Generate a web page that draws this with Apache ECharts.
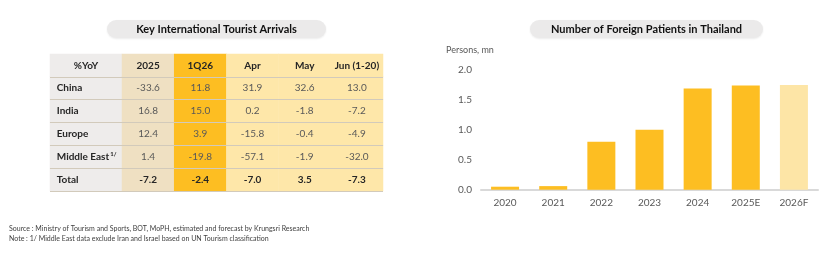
<!DOCTYPE html>
<html>
<head>
<meta charset="utf-8">
<script src="https://cdn.jsdelivr.net/npm/echarts@6/dist/echarts.min.js"></script>
<style>
  html, body { margin: 0; padding: 0; background: #fff; }
  #chart { width: 840px; height: 258px; }
</style>
</head>
<body>
<div id="chart"></div>
<script>
// Key International Tourist Arrivals (%YoY) + Number of Foreign Patients in Thailand

// ---------------------------------------------------------------------------
// Data
// ---------------------------------------------------------------------------
const HEADER_LABEL = "%YoY";
const PERIODS = ["2025", "1Q26", "Apr", "May", "Jun (1-20)"];
const REGIONS = ["China", "India", "Europe", "Middle East", "Total"];
const YOY_2025 = [-33.6, 16.8, 12.4, 1.4, -7.2];
const YOY_1Q26 = [11.8, 15.0, 3.9, -19.8, -2.4];
const YOY_APR = [31.9, 0.2, -15.8, -57.1, -7.0];
const YOY_MAY = [32.6, -1.8, -0.4, -1.9, 3.5];
const YOY_JUN = [13.0, -7.2, -4.9, -32.0, -7.3];

const YEARS = ["2020", "2021", "2022", "2023", "2024", "2025E", "2026F"];
const PATIENTS_MN = [0.05, 0.06, 0.80, 1.00, 1.69, 1.74, 1.75];
const Y_TICKS = [0, 0.5, 1.0, 1.5, 2.0];

// ---------------------------------------------------------------------------
// Styles
// ---------------------------------------------------------------------------
const FONT = "Lato";
const INK = "#262626";
const MUTED = "#595959";
const COL_COLORS = ["#EFE0C2", "#FDBE22", "#FEE7A9", "#FEE7A9", "#FEE7A9"];
const LABEL_COL = "#EEECEB";
const RULE = "#D2CABB";
const BAR = "#FDBE22";
const BAR_FORECAST = "#FDE5A6";

const ROWS = ["header", ...REGIONS];
const TABLE = [YOY_2025, YOY_1Q26, YOY_APR, YOY_MAY, YOY_JUN];
const isBoldRow = (r) => r === 0 || r === ROWS.length - 1;

// label column cells
const labelCells = ROWS.map((_, r) => ({
  value: [0, r, 0],
  itemStyle: { color: LABEL_COL },
  label: r === 0 ? { position: "inside" } : { position: "insideLeft", distance: 7 },
}));

// period cells
const valueCells = [];
PERIODS.forEach((_, c) => {
  ROWS.forEach((_, r) => {
    valueCells.push({
      value: [c, r, r === 0 ? 0 : TABLE[c][r - 1]],
      itemStyle: { color: COL_COLORS[c] },
      label: isBoldRow(r) ? { fontWeight: "bold", color: INK } : {},
    });
  });
});

const tableTop = 54, tableHeight = 137;

function catY(gridIndex) {
  return {
    type: "category", gridIndex, data: ROWS, inverse: true, z: 10,
    axisLine: { show: false }, axisTick: { show: false }, axisLabel: { show: false },
    splitLine: { show: true, showMinLine: false, lineStyle: { color: RULE, width: 1 } },
  };
}

const chart = echarts.init(document.getElementById("chart"), null, { renderer: "canvas" });

chart.setOption({
  animation: false,
  textStyle: { fontFamily: FONT },
  grid: [
    { left: 50, top: tableTop, width: 72, height: tableHeight },
    { left: 122, top: tableTop, width: 261, height: tableHeight },
    { left: 481, right: 22, top: 70, bottom: 68.3 },
  ],
  xAxis: [
    { type: "category", gridIndex: 0, data: [HEADER_LABEL], show: false },
    { type: "category", gridIndex: 1, data: PERIODS, show: false },
    {
      type: "category", gridIndex: 2, data: YEARS,
      axisLine: { lineStyle: { color: "#D9D9D9", width: 2 } },
      axisTick: { show: false },
      axisLabel: { color: MUTED, fontSize: 10, margin: 8, fontFamily: FONT },
    },
  ],
  yAxis: [
    catY(0),
    catY(1),
    {
      type: "value", gridIndex: 2, min: 0, max: 2, interval: 0.5,
      axisLine: { show: false }, axisTick: { show: false }, splitLine: { show: false },
      axisLabel: { color: MUTED, fontSize: 10, margin: 9, fontFamily: FONT,
        formatter: (v) => v.toFixed(1) },
    },
  ],
  series: [
    {
      type: "heatmap", xAxisIndex: 0, yAxisIndex: 0, data: labelCells,
      itemStyle: { borderWidth: 0 },
      label: {
        show: true, fontFamily: FONT, fontSize: 10, fontWeight: "bold", color: INK,
        formatter: (p) => {
          const r = p.value[1];
          if (r === 0) return HEADER_LABEL;
          return ROWS[r] === "Middle East" ? "Middle East{sup|1/}" : ROWS[r];
        },
        rich: { sup: { fontSize: 6, fontWeight: "bold", color: INK, verticalAlign: "top", padding: [0, 0, 5, 1] } },
      },
      emphasis: { disabled: true },
    },
    {
      type: "heatmap", xAxisIndex: 1, yAxisIndex: 1, data: valueCells,
      itemStyle: { borderWidth: 0 },
      label: {
        show: true, fontFamily: FONT, fontSize: 10, color: MUTED,
        formatter: (p) => (p.value[1] === 0 ? PERIODS[p.value[0]] : p.value[2].toFixed(1)),
      },
      emphasis: { disabled: true },
    },
    {
      type: "bar", xAxisIndex: 2, yAxisIndex: 2, barWidth: 28,
      data: PATIENTS_MN.map((v, i) => ({
        value: v,
        itemStyle: { color: YEARS[i].endsWith("F") ? BAR_FORECAST : BAR },
      })),
    },
  ],
  graphic: [
    { type: "rect", shape: { x: 107, y: 20, width: 219, height: 18, r: 9 },
      style: { fill: "#EBEAEA", shadowBlur: 2, shadowOffsetY: 1, shadowColor: "rgba(0,0,0,0.08)" } },
    { type: "text", style: { x: 216.5, y: 29.5, text: "Key International Tourist Arrivals",
      textAlign: "center", textVerticalAlign: "middle", fill: "#111", font: `bold 11px ${FONT}` } },
    { type: "rect", shape: { x: 530, y: 20, width: 233, height: 18, r: 9 },
      style: { fill: "#EBEAEA", shadowBlur: 2, shadowOffsetY: 1, shadowColor: "rgba(0,0,0,0.08)" } },
    { type: "text", style: { x: 646.5, y: 29.5, text: "Number of Foreign Patients in Thailand",
      textAlign: "center", textVerticalAlign: "middle", fill: "#111", font: `bold 11px ${FONT}` } },
    { type: "text", style: { x: 446, y: 50, text: "Persons, mn",
      textVerticalAlign: "middle", fill: MUTED, font: `9px ${FONT}` } },
    { type: "text", style: { x: 9, y: 228.5, text: "Source : Ministry of Tourism and Sports, BOT, MoPH, estimated and forecast by Krungsri Research",
      textVerticalAlign: "middle", fill: "#404040", font: `7px ${FONT}` } },
    { type: "text", style: { x: 9, y: 238.5, text: "Note : 1/ Middle East data exclude Iran and Israel based on UN Tourism classification",
      textVerticalAlign: "middle", fill: "#404040", font: `7px ${FONT}` } },
  ],
});
</script>
</body>
</html>
